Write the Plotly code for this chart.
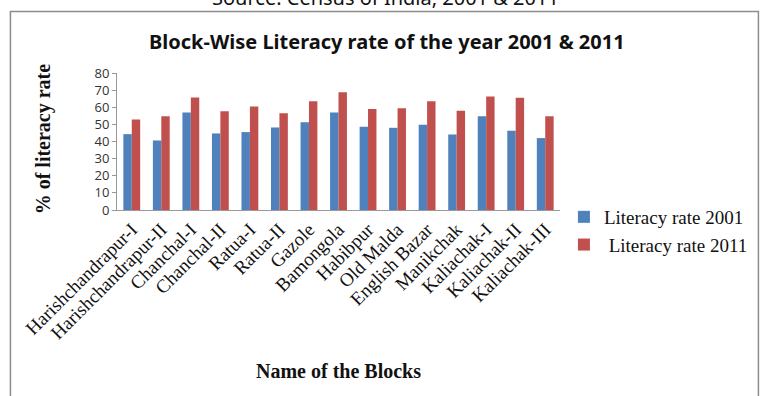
import plotly.graph_objects as go

blocks = ["Harishchandrapur-I", "Harishchandrapur-II", "Chanchal-I", "Chanchal-II",
          "Ratua-I", "Ratua-II", "Gazole", "Bamongola", "Habibpur", "Old Malda",
          "English Bazar", "Manikchak", "Kaliachak-I", "Kaliachak-II", "Kaliachak-III"]
rate_2001 = [44.3, 40.6, 56.9, 44.7, 45.5, 48.2, 51.2, 56.9, 48.6, 48.0, 49.8, 44.1, 54.7, 46.3, 42.0]
rate_2011 = [52.8, 54.7, 65.7, 57.6, 60.4, 56.5, 63.5, 68.8, 59.0, 59.4, 63.5, 58.0, 66.3, 65.5, 54.7]
y_ticks = [0, 10, 20, 30, 40, 50, 60, 70, 80]

W, H = 765, 396
L, R, T, B = 117, 197, 73, 186
pw, ph = W - L - R, H - T - B

def px_x(x):
    return (x - L) / pw

def px_y(y):
    return (H - B - y) / ph

fig = go.Figure()
fig.add_trace(go.Bar(x=blocks, y=rate_2001, name="Literacy rate 2001",
                     marker=dict(color="#4F81BD", line=dict(width=0))))
fig.add_trace(go.Bar(x=blocks, y=rate_2011, name=" Literacy rate 2011",
                     marker=dict(color="#C0504D", line=dict(width=0))))

fig.update_layout(
    width=W, height=H,
    margin=dict(l=L, r=R, t=T, b=B, pad=0),
    paper_bgcolor="white", plot_bgcolor="white",
    barmode="group", bargap=0.43, bargroupgap=0,
    showlegend=True,
    legend=dict(x=px_x(572), y=px_y(198), xanchor="left", yanchor="top",
                font=dict(family="Liberation Serif", size=19, color="#111"),
                bgcolor="rgba(0,0,0,0)", itemwidth=30, tracegroupgap=0, borderwidth=0),
    xaxis=dict(showline=True, linecolor="#999", linewidth=1, ticks="",
               tickangle=-45, tickfont=dict(family="Liberation Serif", size=19, color="#111"),
               showgrid=False, zeroline=False),
    yaxis=dict(range=[0, 80], tickvals=y_ticks, showline=True, linecolor="#999", linewidth=1,
               ticks="outside", ticklen=4, tickcolor="#999", showgrid=False, zeroline=False,
               tickfont=dict(family="Open Sans", size=13, color="#333")),
    shapes=[dict(type="rect", xref="paper", yref="paper",
                 x0=px_x(8.5), x1=px_x(770), y0=px_y(400), y1=px_y(11.5),
                 line=dict(color="#8c8c8c", width=1.5), fillcolor="rgba(0,0,0,0)", layer="below")],
    annotations=[
        dict(text="<b>Block-Wise Literacy rate of the year 2001 & 2011</b>", xref="paper", yref="paper",
             x=px_x(392), y=px_y(42), xanchor="center", yanchor="middle", showarrow=False,
             font=dict(family="Noto Sans", size=20, color="#111")),
        dict(text="Source: Census of India, 2001 & 2011", xref="paper", yref="paper",
             x=px_x(390), y=px_y(-2), xanchor="center", yanchor="middle", showarrow=False,
             font=dict(family="Noto Sans", size=20, color="#111")),
        dict(text="<b>% of literacy rate</b>", xref="paper", yref="paper",
             x=px_x(42), y=px_y(139), xanchor="center", yanchor="middle", showarrow=False,
             textangle=-90, font=dict(family="Liberation Serif", size=20, color="#111")),
        dict(text="<b>Name of the Blocks</b>", xref="paper", yref="paper",
             x=px_x(343), y=px_y(371), xanchor="center", yanchor="middle", showarrow=False,
             font=dict(family="Liberation Serif", size=20, color="#111")),
    ],
)

fig.write_html("out.html")
